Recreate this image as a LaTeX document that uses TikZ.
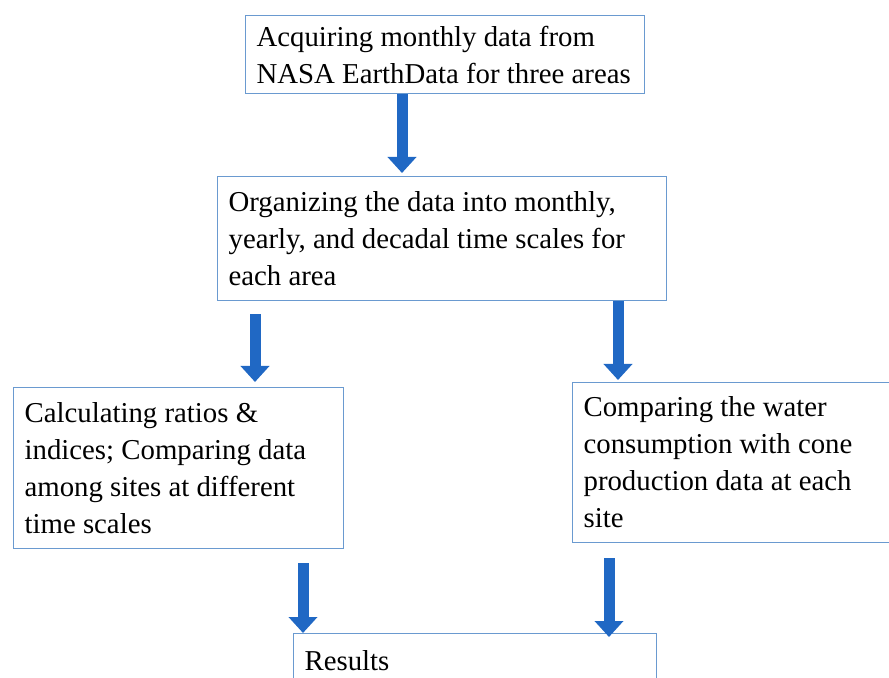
\documentclass[tikz,border=0pt]{standalone}
\usepackage{fontspec}
\setmainfont{Liberation Serif}
\usetikzlibrary{arrows.meta}
\definecolor{arrowblue}{HTML}{2068C4}
\definecolor{boxline}{HTML}{6A9AD0}
\begin{document}
\begin{tikzpicture}[x=0.5pt,y=-0.5pt,
    stepbox/.style={draw=boxline,line width=0.6pt,anchor=north west,align=flush left,
      inner xsep=5.5pt,inner ysep=0pt,font=\fontsize{14.4}{18.5}\selectfont},
    flow/.style={draw=arrowblue,line width=5.5pt,-{Triangle[width=14pt,length=8pt]},arrowblue}]
    \useasboundingbox (0,0) rectangle (889,678);

    % Boxes
    \node[stepbox,text width=188.5pt,minimum height=39pt] (acquire) at (245,15)
      {Acquiring monthly data from\\NASA EarthData for three areas};
    \node[stepbox,text width=213.5pt,minimum height=62pt] (organize) at (217,176)
      {Organizing the data into monthly,\\yearly, and decadal time scales for\\each area};
    \node[stepbox,text width=154pt,minimum height=80.5pt] (ratios) at (13,387)
      {Calculating ratios \&\\indices; Comparing data\\among sites at different\\time scales};
    \node[stepbox,text width=152.5pt,minimum height=80pt] (compare) at (572,382)
      {Comparing the water\\consumption with cone\\production data at each\\site};
    \node[stepbox,text width=170.5pt,minimum height=27pt] (results) at (293,633)
      {Results};

    % Arrow columns
    \coordinate (c1) at (402,0);
    \coordinate (c2) at (255,0);
    \coordinate (c3) at (618,0);
    \coordinate (c4) at (303,0);
    \coordinate (c5) at (609,0);

    % Arrows
    \draw[flow,shorten >=1.5pt] (acquire.south -| c1) -- (organize.north -| c1);
    \draw[flow,shorten <=6.5pt,shorten >=2.5pt] (organize.south -| c2) -- (ratios.north -| c2);
    \draw[flow,shorten >=1pt] (organize.south -| c3) -- (compare.north -| c3);
    \draw[flow,shorten <=7pt] (ratios.south -| c4) -- (results.north -| c4);
    \draw[flow,shorten <=7.5pt,shorten >=-2pt] (compare.south -| c5) -- (results.north -| c5);
\end{tikzpicture}
\end{document}
